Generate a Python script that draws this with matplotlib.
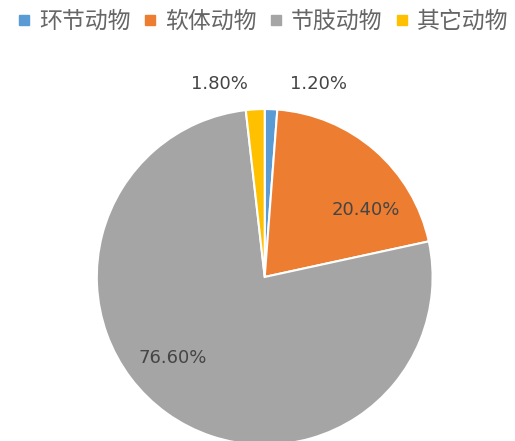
import matplotlib
matplotlib.use("Agg")
import matplotlib.pyplot as plt
from matplotlib.lines import Line2D

plt.rcParams['font.family'] = ['Noto Sans CJK SC', 'DejaVu Sans']

categories = ["环节动物", "软体动物", "节肢动物", "其它动物"]
shares = [1.2, 20.4, 76.6, 1.8]
colors = ["#5B9BD5", "#ED7D31", "#A5A5A5", "#FFC000"]

# label anchor (x, y) in pie units, same order as categories
label_pos = [(0.32, 1.15), (0.60, 0.40), (-0.55, -0.48), (-0.27, 1.15)]

fig = plt.figure(figsize=(5.15, 4.41), dpi=100)
ax = fig.add_axes([0.188, -0.009, 0.652, 0.762])
wedges, _ = ax.pie(shares, colors=colors, startangle=90, counterclock=False,
                   radius=1.0, wedgeprops=dict(edgecolor="white", linewidth=1.5))
ax.set_xlim(-1, 1)
ax.set_ylim(-1, 1)
ax.set_aspect("equal")
ax.axis("off")

for v, (x, y) in zip(shares, label_pos):
    ax.text(x, y, f"{v:.2f}%", ha="center", va="center", fontsize=13,
            color="#454545", family="DejaVu Sans", clip_on=False)

handles = [Line2D([], [], marker="s", linestyle="", markersize=7,
                  markerfacecolor=c, markeredgecolor=c) for c in colors]
fig.legend(handles, categories, loc="upper center", bbox_to_anchor=(0.51, 1.025),
           ncol=4, frameon=False, fontsize=16.5, handlelength=0.6,
           handletextpad=0.35, columnspacing=0.55, labelcolor="#666666")

fig.savefig("out.png", dpi=100)
